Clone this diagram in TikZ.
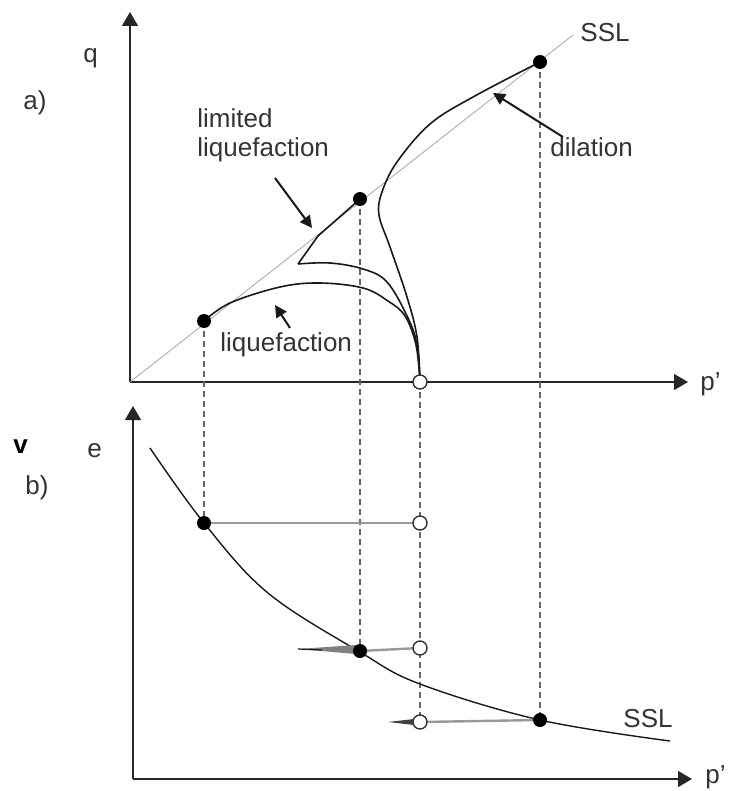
\documentclass[tikz,border=0pt]{standalone}
\usepackage{fontspec}
\setmainfont{Liberation Sans}
\usetikzlibrary{arrows.meta}
\begin{document}
\begin{tikzpicture}[x=0.5pt,y=-0.5pt,
  lbl/.style={font=\fontsize{13}{15}\selectfont, text=black!80, inner sep=0, anchor=base west},
  fdot/.style={circle,fill=black,minimum size=7pt,inner sep=0},
  odot/.style={circle,draw=black!80,fill=white,line width=0.7pt,minimum size=7pt,inner sep=0},
  axis/.style={line width=0.8pt,draw=black!85,-{Triangle[length=7pt,width=8pt]}},
  vdash/.style={draw=black!60,line width=0.9pt,dash pattern=on 3pt off 2pt},
  hline/.style={draw=black!40,line width=1.2pt},
  curve/.style={draw=black!90,line width=0.8pt},
  ssl/.style={draw=black!35,line width=0.4pt},
  pointer/.style={draw=black!90,line width=1pt,-{Triangle[length=6pt,width=6pt]}}
]
\useasboundingbox (0,0) rectangle (732,791);

% ---------- named points ----------
\coordinate (O1) at (130,382);
\coordinate (Q1) at (130,12);
\coordinate (P1) at (688,382);
\coordinate (O2) at (133,779);
\coordinate (Q2) at (133,406);
\coordinate (P2) at (692,779);
\coordinate (S1) at (573,35);

% ---------- axes ----------
\draw[axis] (O1) -- (Q1);
\draw[axis] (O1) -- (P1);
\draw[axis] (O2) -- (Q2);
\draw[axis] (O2) -- (P2);

% SSL line (top)
\draw[ssl] (O1) -- (S1);

% ---------- dashed verticals ----------
\coordinate (a1) at (204,321);
\coordinate (a2) at (360,199);
\coordinate (a3) at (420,382);
\coordinate (a4) at (540,62);
\coordinate (b1) at (204,523);
\coordinate (b2) at (360,651);
\coordinate (b3) at (420,722);
\coordinate (b4) at (540,720);
\coordinate (c1) at (420,523);
\coordinate (c2) at (420,648);
\draw[vdash] (a1) -- (b1);
\draw[vdash] (a2) -- (b2);
\draw[vdash] (a3) -- (b3);
\draw[vdash] (a4) -- (b4);

% ---------- top curves ----------
% liquefaction
\draw[curve] plot[smooth,tension=0.6] coordinates {(420,382) (416,345) (405,316) (388,301) (363,288) (320,283) (280,287) (230,303) (204,321)};
% limited liquefaction
\draw[curve] plot[smooth,tension=0.6] coordinates {(420,382) (417,345) (408,318) (387,282) (363,269) (330,263) (298,264)};
\draw[curve] (298,264) -- (318,236) -- (360,199);
% dilation
\draw[curve] plot[smooth,tension=0.6] coordinates {(420,382) (417,337) (407,297) (390,247) (379,215) (382,192) (397,162) (430,124) (473,97) (540,62)};

% ---------- bottom curve ----------
\draw[curve,line width=0.7pt] plot[smooth,tension=0.6] coordinates {(150,448) (204,523) (268,593) (360,652) (420,684) (540,720) (670,741)};

% ---------- horizontal grey lines ----------
\draw[hline] (b1) -- (c1);
\draw[hline] (b2) -- (c2);
\draw[hline] (b3) -- (b4);
\fill[black!50] (298,649) -- (356,645) -- (356,654) -- cycle;
\draw[black!90,line width=0.6pt] (298,649) -- (322,650);
\fill[black!75] (388,722) -- (414,719) -- (414,725) -- cycle;

% ---------- dots ----------
\node[fdot] (d1) at (a1) {};
\node[fdot] (d2) at (a2) {};
\node[fdot] (d4) at (a4) {};
\node[odot] (d3) at (a3) {};
\node[fdot] (e1) at (b1) {};
\node[fdot] (e2) at (b2) {};
\node[fdot] (e4) at (b4) {};
\node[odot] (f1) at (c1) {};
\node[odot] (f2) at (c2) {};
\node[odot] (f3) at (b3) {};

% ---------- labels ----------
\node[lbl] (tq) at (83,63) {q};
\node[lbl] (ta) at (23,110) {a)};
\node[lbl] (tp1) at (700,390) {p’};
\node[lbl] (tssl1) at (580,42) {SSL};
\node[lbl] (tlim1) at (197,128) {limited};
\node[lbl] (tlim2) at (197,157) {liquefaction};
\node[lbl] (tliq) at (220,351) {liquefaction};
\node[lbl] (tdil) at (550,157) {dilation};
\node[lbl,font=\fontsize{13}{15}\selectfont\bfseries,text=black] (tv) at (13,453) {v};
\node[lbl] (te) at (87,457) {e};
\node[lbl] (tb) at (25,494) {b)};
\node[lbl] (tssl2) at (623,727) {SSL};
\node[lbl] (tp2) at (705,783) {p’};

% ---------- pointer arrows ----------
\coordinate (la0) at (275,178);
\coordinate (la1) at (312,228);
\coordinate (lq0) at (290,328);
\coordinate (lq1) at (275,305);
\coordinate (dl0) at (563,137);
\coordinate (dl1) at (493,93);
\draw[pointer] (la0) -- (la1);
\draw[pointer] (lq0) -- (lq1);
\draw[pointer] (dl0) -- (dl1);
\end{tikzpicture}
\end{document}
